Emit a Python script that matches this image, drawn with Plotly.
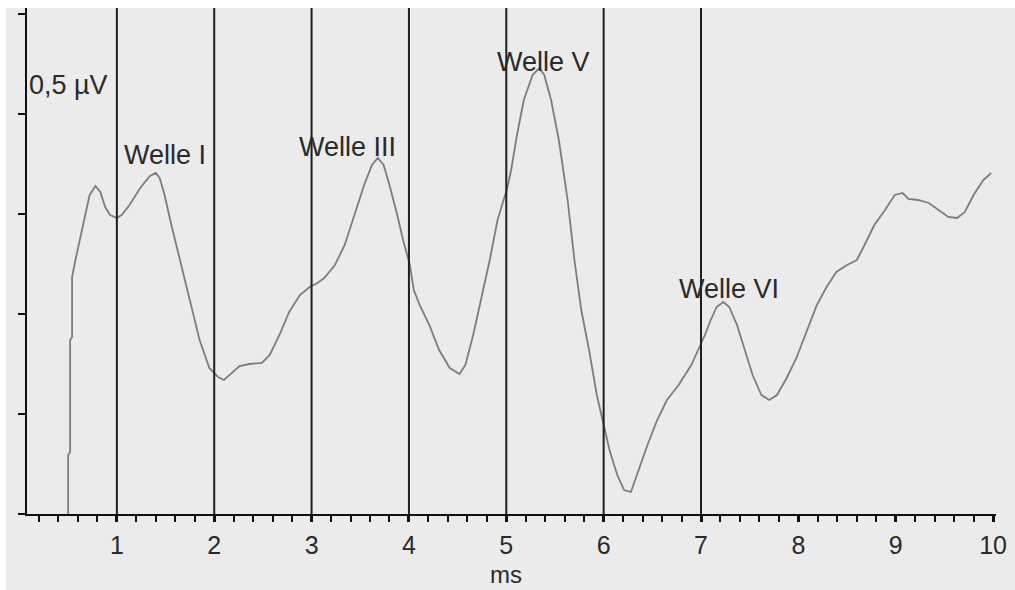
import plotly.graph_objects as go

# ---- data ----
time_ms = [0.50, 0.50, 0.52, 0.52, 0.54, 0.54, 0.57, 0.60, 0.64, 0.68, 0.72, 0.78, 0.83, 0.88, 0.93,
           1.00, 1.05, 1.13, 1.24, 1.34, 1.40, 1.44, 1.49, 1.56, 1.65, 1.75, 1.85, 1.95, 2.04, 2.10,
           2.18, 2.26, 2.36, 2.49, 2.57, 2.67, 2.77, 2.88, 2.98, 3.06, 3.13, 3.24, 3.34, 3.44, 3.54,
           3.62, 3.68, 3.74, 3.80, 3.88, 3.94, 4.01, 4.05, 4.11, 4.21, 4.31, 4.42, 4.52, 4.58, 4.66,
           4.74, 4.83, 4.91, 4.97, 5.01, 5.05, 5.11, 5.18, 5.27, 5.34, 5.39, 5.46, 5.54, 5.63, 5.70,
           5.77, 5.85, 5.93, 5.99, 6.06, 6.14, 6.21, 6.28, 6.36, 6.45, 6.55, 6.65, 6.77, 6.90, 6.98,
           7.04, 7.10, 7.16, 7.23, 7.29, 7.37, 7.45, 7.53, 7.62, 7.70, 7.78, 7.88, 7.98, 8.09, 8.19,
           8.29, 8.39, 8.50, 8.60, 8.68, 8.78, 8.89, 8.99, 9.07, 9.13, 9.23, 9.34, 9.44, 9.54, 9.63,
           9.71, 9.80, 9.90, 9.98]
amplitude = [0.00, 0.59, 0.62, 1.74, 1.77, 2.37, 2.52, 2.66, 2.84, 3.04, 3.19, 3.28, 3.22, 3.07, 2.99,
             2.96, 2.99, 3.09, 3.26, 3.38, 3.41, 3.36, 3.19, 2.89, 2.54, 2.14, 1.74, 1.46, 1.37, 1.34,
             1.41, 1.48, 1.50, 1.51, 1.59, 1.79, 2.02, 2.19, 2.27, 2.31, 2.36, 2.49, 2.69, 2.99, 3.29,
             3.49, 3.56, 3.49, 3.29, 2.99, 2.74, 2.49, 2.24, 2.09, 1.89, 1.64, 1.46, 1.40, 1.49, 1.79,
             2.14, 2.54, 2.94, 3.14, 3.26, 3.44, 3.79, 4.14, 4.39, 4.46, 4.39, 4.14, 3.74, 3.14, 2.54,
             2.04, 1.64, 1.19, 0.92, 0.64, 0.39, 0.24, 0.22, 0.44, 0.69, 0.94, 1.14, 1.29, 1.49, 1.66,
             1.79, 1.94, 2.07, 2.12, 2.07, 1.89, 1.64, 1.39, 1.19, 1.14, 1.19, 1.36, 1.56, 1.84, 2.09,
             2.27, 2.42, 2.49, 2.54, 2.69, 2.89, 3.04, 3.19, 3.21, 3.15, 3.14, 3.11, 3.04, 2.97, 2.96,
             3.02, 3.19, 3.34, 3.41]

marker_lines = [1, 2, 3, 4, 5, 6, 7]
x_ticks = [1, 2, 3, 4, 5, 6, 7, 8, 9, 10]
y_ticks = [0, 1, 2, 3, 4, 5]

wave_labels = ["Welle I", "Welle III", "Welle V", "Welle VI"]
wave_label_x = [1.49, 3.37, 5.38, 7.29]
wave_label_y = [3.59, 3.67, 4.52, 2.25]

scale_label = "0,5 µV"
x_title = "ms"

# ---- figure ----
FONT = "Liberation Sans, Arial, sans-serif"
GRAY_BG = "#ebebeb"
TEXT = "#2a2a2a"

fig = go.Figure()
fig.add_trace(go.Scatter(x=time_ms, y=amplitude, mode="lines",
                         line=dict(color="#7d7d7d", width=1.8), hoverinfo="skip",
                         showlegend=False))

shapes = [
    dict(type="rect", xref="paper", yref="paper", x0=-0.05, x1=-0.0216, y0=-0.2, y1=1.1,
         fillcolor="white", line=dict(width=0), layer="below"),
    dict(type="rect", xref="paper", yref="paper", x0=-0.05, x1=1.05, y0=1.0, y1=1.1,
         fillcolor="white", line=dict(width=0), layer="below"),
]
for mx in marker_lines:
    shapes.append(dict(type="line", xref="x", yref="paper", x0=mx, x1=mx, y0=0, y1=1,
                       line=dict(color="#1e1e1e", width=2), layer="above"))

annotations = []
for t, ax_, ay_ in zip(wave_labels, wave_label_x, wave_label_y):
    annotations.append(dict(text=t, x=ax_, y=ay_, xref="x", yref="y", showarrow=False,
                            xanchor="center", yanchor="middle",
                            font=dict(family=FONT, size=27, color=TEXT)))
annotations.append(dict(text=scale_label, x=0.08, y=4.29, xref="x", yref="y", xanchor="left",
                        yanchor="middle", showarrow=False,
                        font=dict(family=FONT, size=27, color=TEXT)))
annotations.append(dict(text=x_title, x=5.0, y=-0.119, xref="x", yref="paper", showarrow=False,
                        xanchor="center", yanchor="middle",
                        font=dict(family=FONT, size=24, color=TEXT)))

fig.update_layout(
    width=1015, height=590,
    margin=dict(l=27, r=17, t=8, b=76),
    paper_bgcolor=GRAY_BG, plot_bgcolor=GRAY_BG,
    shapes=shapes, annotations=annotations,
    xaxis=dict(range=[0.077, 10.03], tickvals=x_ticks, ticktext=[str(v) for v in x_ticks],
               showgrid=False, zeroline=False, showline=True, linecolor="#111111", linewidth=2,
               ticks="outside", ticklen=6, tickwidth=3, tickcolor="#111111",
               minor=dict(dtick=0.2, tick0=0, ticks="outside", ticklen=6, tickwidth=2,
                          tickcolor="#111111", showgrid=False),
               tickfont=dict(family=FONT, size=25, color=TEXT), ticklabelstandoff=2,
               fixedrange=True),
    yaxis=dict(range=[0, 5.06], tickvals=y_ticks, showticklabels=False, showgrid=False,
               zeroline=False, showline=True, linecolor="#111111", linewidth=2,
               ticks="outside", ticklen=7, tickwidth=2, tickcolor="#111111", fixedrange=True),
)

fig.write_html("out.html")
